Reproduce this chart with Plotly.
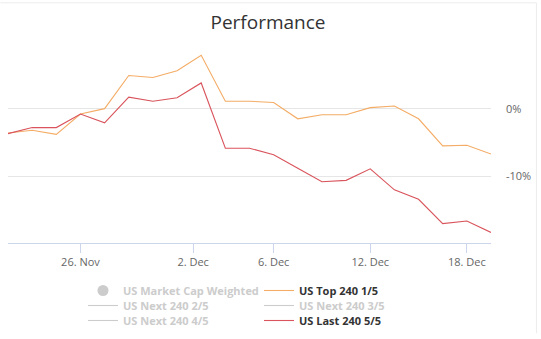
import datetime as dt
import numpy as np
import plotly.graph_objects as go

# Trading days shown on the chart (ordinal axis: each day gets one slot)
dates = [
    "2018-11-21", "2018-11-22", "2018-11-23", "2018-11-26", "2018-11-27",
    "2018-11-28", "2018-11-29", "2018-11-30", "2018-12-03", "2018-12-04",
    "2018-12-05", "2018-12-06", "2018-12-07", "2018-12-10", "2018-12-11",
    "2018-12-12", "2018-12-13", "2018-12-14", "2018-12-17", "2018-12-18",
    "2018-12-19",
]

# Cumulative performance, percent
top_240_1 = [-3.6, -3.2, -3.8, -0.8, 0.0, 4.9, 4.6, 5.6, 7.9, 1.1, 1.1,
             0.9, -1.5, -0.9, -0.9, 0.15, 0.4, -1.5, -5.5, -5.4, -6.7]
last_240_5 = [-3.7, -2.8, -2.8, -0.8, -2.1, 1.7, 1.1, 1.6, 3.8, -5.85, -5.85,
              -6.8, -8.8, -10.8, -10.6, -8.9, -12.0, -13.4, -17.0, -16.6, -18.3]

# Axis labels
x_tick_dates = ["2018-11-26", "2018-12-02", "2018-12-06", "2018-12-12", "2018-12-18"]
x_tick_labels = ["26. Nov", "2. Dec", "6. Dec", "12. Dec", "18. Dec"]
y_tick_values = [0, -10]
y_tick_labels = ["0%", "-10%"]

# Legend rows: (name, state) pairs, two per row
legend_rows = [
    [("US Market Cap Weighted", "off-marker"), ("US Top 240 1/5", "top")],
    [("US Next 240 2/5", "off-line"), ("US Next 240 3/5", "off-line")],
    [("US Next 240 4/5", "off-line"), ("US Last 240 5/5", "last")],
]

ORANGE = "#f4ac66"
RED = "#d9545c"
MUTED = "#cccccc"


def to_ord(s):
    return dt.date.fromisoformat(s).toordinal()


date_ord = np.array([to_ord(d) for d in dates], dtype=float)
slot = np.arange(len(dates), dtype=float)
x_pos = slot
tick_pos = np.interp([to_ord(d) for d in x_tick_dates], date_ord, slot)

# Series that are switched off: no values are plotted for them
hidden_vals = [None] * len(dates)

W, H = 541, 339
L, R = 7.6, 49.5
T, B = 41, 92.4

fig = go.Figure()

series = {"top": (top_240_1, ORANGE), "last": (last_240_5, RED)}
legend_ids = ["legend", "legend2", "legend3"]

for row, lg in zip(legend_rows, legend_ids):
    for name, state in row:
        if state in series:
            vals, col = series[state]
            fig.add_trace(go.Scatter(
                x=x_pos, y=vals, mode="lines", name=name, legend=lg,
                line=dict(color=col, width=1.1), hoverinfo="skip",
            ))
        elif state == "off-marker":
            fig.add_trace(go.Scatter(
                x=x_pos, y=hidden_vals, mode="markers", legend=lg,
                name=f"<span style='color:{MUTED}'>{name}</span>",
                marker=dict(color=MUTED, size=11, symbol="circle"),
            ))
        else:
            fig.add_trace(go.Scatter(
                x=x_pos, y=hidden_vals, mode="lines", legend=lg,
                name=f"<span style='color:{MUTED}'>{name}</span>",
                line=dict(color=MUTED, width=1.1),
            ))

legend_common = dict(
    orientation="h", xref="container", yref="container",
    xanchor="left", yanchor="middle", x=83 / W,
    font=dict(family="Open Sans", size=11, color="#333333", weight="bold"),
    entrywidth=131, entrywidthmode="pixels",
    bgcolor="rgba(0,0,0,0)", borderwidth=0, itemclick=False,
    tracegroupgap=0,
)
row_y = [290.5, 305.5, 320.5]
for lg, yy in zip(legend_ids, row_y):
    fig.update_layout({lg: dict(legend_common, y=1 - yy / H)})

fig.update_layout(
    width=W, height=H,
    margin=dict(l=L, r=R, t=T, b=B, pad=0),
    paper_bgcolor="white", plot_bgcolor="white",
    showlegend=True,
    title=dict(
        text="Performance", xref="container", yref="container",
        x=268 / W, y=1 - 22 / H, xanchor="center", yanchor="middle",
        font=dict(family="Open Sans", size=19, color="#333333"),
    ),
    xaxis=dict(
        range=[0, 20], tickmode="array", tickvals=tick_pos, ticktext=x_tick_labels,
        showgrid=False, zeroline=False,
        showline=True, linecolor="#ccd6eb", linewidth=1,
        ticks="outside", ticklen=9, tickcolor="#ccd6eb", tickwidth=1,
        tickfont=dict(family="Open Sans", size=11, color="#666666"),
        fixedrange=True,
    ),
    yaxis=dict(
        range=[-19.8, 10], side="right", tickmode="array",
        tickvals=y_tick_values, ticktext=y_tick_labels,
        showgrid=True, gridcolor="#e6e6e6", gridwidth=1, zeroline=False,
        showline=False, ticks="", ticklabelstandoff=14,
        tickfont=dict(family="Open Sans", size=11, color="#666666"),
        fixedrange=True,
    ),
    hovermode=False,
)

# Faint card outline along the top and right edges
pw = W - L - R
ph = H - T - B


def px_x(v):
    return (v - L) / pw


def px_y(v):
    return 1 - (v - T) / ph


fig.add_shape(type="line", xref="paper", yref="paper",
              x0=px_x(0), x1=px_x(537), y0=px_y(2), y1=px_y(2),
              line=dict(color="#ececec", width=1))
fig.add_shape(type="line", xref="paper", yref="paper",
              x0=px_x(537), x1=px_x(537), y0=px_y(2), y1=px_y(339),
              line=dict(color="#ececec", width=1))

fig.write_html("out.html", config={"displayModeBar": False})
